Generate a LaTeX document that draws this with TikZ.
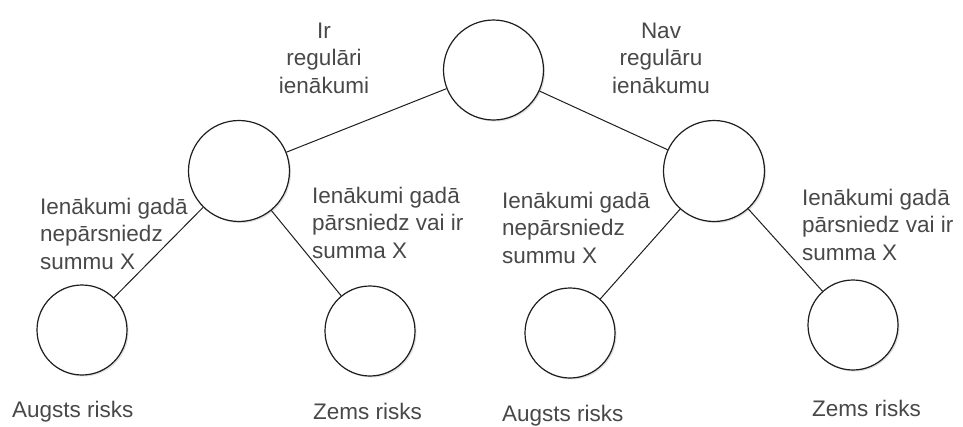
\documentclass[tikz,border=0pt]{standalone}
\usepackage{fontspec}
\setmainfont{Liberation Sans}
\usetikzlibrary{shadows}
\definecolor{txt}{RGB}{72,72,72}
\definecolor{ink}{RGB}{30,30,30}
\begin{document}
\begin{tikzpicture}[x=1pt,y=-1pt,
  state/.style={circle,draw=ink,line width=1.2pt,fill=white,minimum size=100pt,inner sep=0pt,
    drop shadow={shadow xshift=1.5pt,shadow yshift=-1.5pt,opacity=0.25}},
  leaf/.style={state,minimum size=90pt},
  edge/.style={draw=ink,line width=1pt},
  lbl/.style={text=txt,inner sep=0pt,font=\fontsize{22.5}{27.5}\selectfont}
]
\useasboundingbox (0,0) rectangle (963,426);

% decision nodes
\node[state] (root) at (493.5,70) {};
\node[state,minimum size=101pt] (lm) at (239,171) {};
\node[state,minimum size=101pt] (rm) at (714,171) {};
% outcome nodes
\node[leaf] (l1) at (82,330) {};
\node[leaf] (l2) at (370,331) {};
\node[leaf] (l3) at (570,333) {};
\node[leaf] (l4) at (853,325) {};

% branches
\draw[edge] (root) -- (lm);
\draw[edge] (root) -- (rm);
\draw[edge] (lm) -- (l1);
\draw[edge] (lm) -- (l2);
\draw[edge] (rm) -- (l3);
\draw[edge] (rm) -- (l4);

% branch labels (anchored at the baseline of the last line)
\node[lbl,align=center,anchor=base] (tA) at (324,93) {Ir\\regulāri\\ienākumi};
\node[lbl,align=center,anchor=base] (tB) at (661,93) {Nav\\regulāru\\ienākumu};
\node[lbl,align=left,anchor=base west] (tC) at (40,269) {Ienākumi gadā\\nepārsniedz\\summu X};
\node[lbl,align=left,anchor=base west] (tD) at (312,258) {Ienākumi gadā\\pārsniedz vai ir\\summa X};
\node[lbl,align=left,anchor=base west] (tE) at (502,263) {Ienākumi gadā\\nepārsniedz\\summu X};
\node[lbl,align=left,anchor=base west] (tF) at (802,260) {Ienākumi gadā\\pārsniedz vai ir\\summa X};

% outcome labels
\node[lbl,anchor=base west] (o1) at (12,417) {Augsts risks};
\node[lbl,anchor=base west] (o2) at (313,419) {Zems risks};
\node[lbl,anchor=base west] (o3) at (502,421) {Augsts risks};
\node[lbl,anchor=base west] (o4) at (812,416) {Zems risks};
\end{tikzpicture}
\end{document}
